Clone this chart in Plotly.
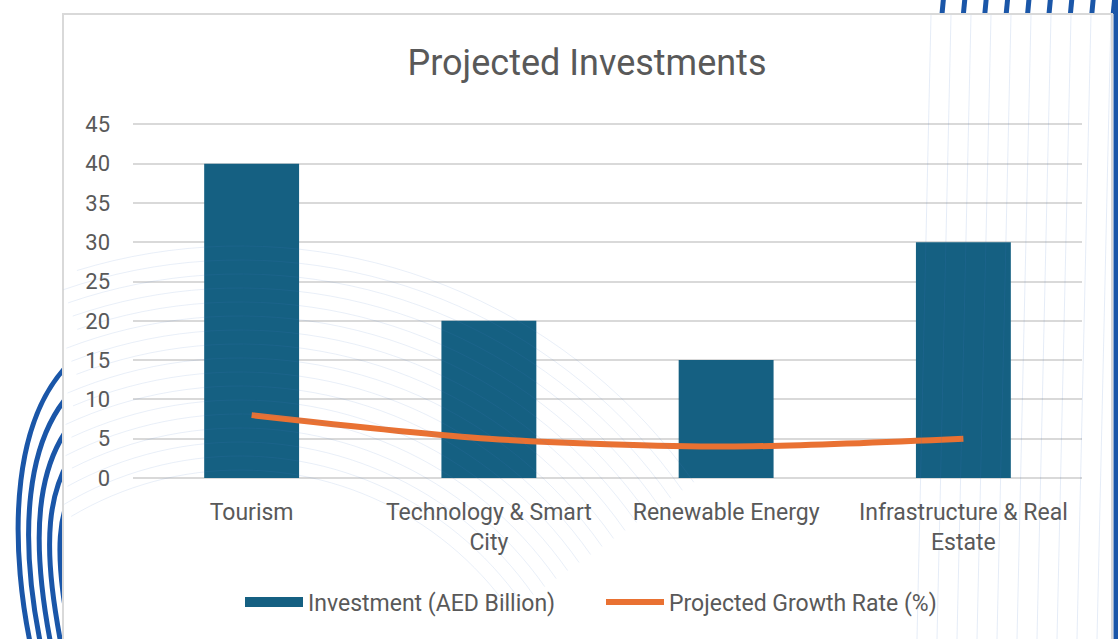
import numpy as np
import plotly.graph_objects as go

categories = ["Tourism", "Technology & Smart<br>City", "Renewable Energy", "Infrastructure & Real<br>Estate"]
investment = [40, 20, 15, 30]
growth_rate = [8, 5, 4, 5]
y_ticks = [0, 5, 10, 15, 20, 25, 30, 35, 40, 45]

W, H = 1118, 639
L, R, T, B = 133, 36, 122, 161
PW, PH = W - L - R, H - T - B


def px(x):
    return (x - L) / PW


def py(y):
    return (H - B - y) / PH


def path(points):
    # points: list of (cmd, x, y, ...) in page pixels
    out = []
    for seg in points:
        cmd, coords = seg[0], seg[1:]
        conv = [f"{px(coords[i]):.5f},{py(coords[i + 1]):.5f}" for i in range(0, len(coords), 2)]
        out.append(cmd + " " + " ".join(conv))
    return " ".join(out)


def polyline(xs, ys):
    pts = [f"{px(x):.5f},{py(y):.5f}" for x, y in zip(xs, ys)]
    return "M " + " L ".join(pts)


BLUE_DECOR = "#1a56a8"
shapes = []

# thick curved strokes on the left edge
for i in range(5):
    y_top = 348 + i * 28
    x_min = 10 + i * 11.5
    x_bot = 34 + i * 10
    shapes.append(dict(
        type="path", xref="paper", yref="paper", layer="below",
        path=path([("M", 103, y_top - 8),
                   ("C", x_min - 10, y_top + 40, x_min, 560, x_bot, 660)]),
        line=dict(color=BLUE_DECOR, width=5)))

# vertical dashes along the top right
for i in range(9):
    x0 = 942 + i * 21.4
    shapes.append(dict(
        type="path", xref="paper", yref="paper", layer="below",
        path=path([("M", x0 + 1.5, -2), ("L", x0, 14)]),
        line=dict(color=BLUE_DECOR, width=5)))

# thick stroke along the right edge
shapes.append(dict(
    type="path", xref="paper", yref="paper", layer="below",
    path=path([("M", 1116, 0), ("L", 1116, 640)]),
    line=dict(color=BLUE_DECOR, width=5)))

# white chart box with thin grey border
shapes.append(dict(
    type="rect", xref="paper", yref="paper", layer="below",
    x0=px(63), x1=px(1112), y0=py(14), y1=py(650),
    fillcolor="white", line=dict(color="#d9d9d9", width=2)))

# faint concentric arcs drifting over the lower left
cx, cy = 240, 800
for r in np.arange(330, 560, 14):
    ang = np.linspace(np.deg2rad(150), np.deg2rad(35), 60)
    xs = cx + r * np.cos(ang)
    ys = cy - r * np.sin(ang)
    keep = (xs > 63) & (ys < 639)
    if keep.sum() > 2:
        shapes.append(dict(
            type="path", xref="paper", yref="paper", layer="above",
            path=polyline(xs[keep], ys[keep]),
            line=dict(color="rgba(70,120,200,0.12)", width=1)))

# faint near-vertical lines under the top-right dashes
for i in range(10):
    x0 = 925 + i * 20
    shapes.append(dict(
        type="path", xref="paper", yref="paper", layer="above",
        path=path([("M", x0 + 6, 15), ("L", x0 - 8, 639)]),
        line=dict(color="rgba(70,120,200,0.14)", width=1)))

fig = go.Figure()
fig.add_trace(go.Bar(
    x=categories, y=investment, name="Investment (AED Billion)",
    marker=dict(color="#156082", line=dict(width=0)), showlegend=False,
))
# legend swatch for the bars, drawn as a thick stroke
fig.add_trace(go.Scatter(
    x=[None], y=[None], name="Investment (AED Billion)", mode="lines",
    line=dict(color="#156082", width=16),
))
fig.add_trace(go.Scatter(
    x=categories, y=growth_rate, name="Projected Growth Rate (%)",
    mode="lines", line=dict(color="#E97132", width=6, shape="spline", smoothing=0.8),
))

font_family = "Roboto, Open Sans, sans-serif"
fig.update_layout(
    width=W, height=H,
    margin=dict(l=L, r=R, t=T, b=B),
    paper_bgcolor="white", plot_bgcolor="rgba(0,0,0,0)",
    font=dict(family=font_family, color="#595959", size=20),
    title=dict(text="Projected Investments", x=587 / W, xanchor="center",
               y=1 - 62 / H, yanchor="middle",
               font=dict(size=36, color="#595959", family=font_family)),
    bargap=0.6,
    showlegend=True,
    legend=dict(orientation="h", x=px(601), xanchor="center", y=py(602), yanchor="middle",
                font=dict(size=23, color="#595959"), bgcolor="rgba(0,0,0,0)",
                itemwidth=58, entrywidth=288, traceorder="normal"),
    shapes=shapes,
)
fig.update_xaxes(showgrid=False, showline=False, ticks="", ticklabelstandoff=18,
                 tickfont=dict(size=23, color="#595959"))
fig.update_yaxes(range=[0, 45.3], tickvals=y_ticks, showgrid=True, gridcolor="#d9d9d9", gridwidth=1.5,
                 zeroline=True, zerolinecolor="#d9d9d9", zerolinewidth=1.5,
                 ticks="", ticklabelstandoff=22, tickfont=dict(size=22, color="#595959"))

fig.write_html("out.html")
